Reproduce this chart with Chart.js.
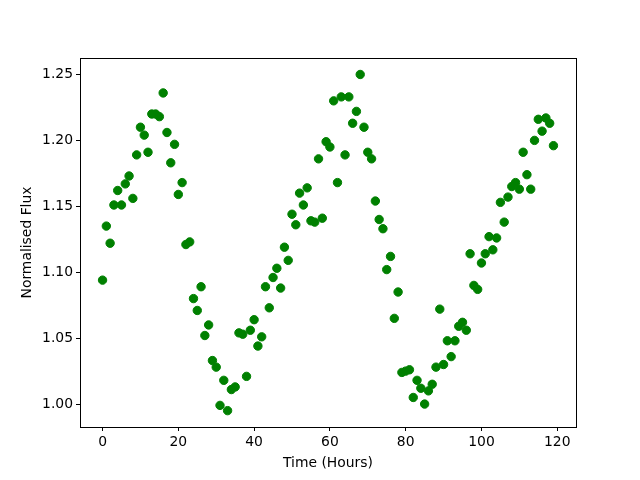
<!DOCTYPE html>
<html>

<head>
    <script src="https://cdn.jsdelivr.net/npm/chart.js@4.4.1/dist/chart.umd.min.js"></script>
    <style>
        body { margin: 0; background: #ffffff; }
    </style>
</head>

<body>

    <canvas id="myChart" width="640" height="480"></canvas>

    <script>
        // hourly light curve
        var hours = [];
        for (let i = 0; i < 120; i++) hours.push(i);

        var flux = [
            1.094, 1.135, 1.122, 1.151, 1.162, 1.151, 1.167, 1.173, 1.156, 1.189,
            1.210, 1.204, 1.191, 1.220, 1.220, 1.218, 1.236, 1.206, 1.183, 1.197,
            1.159, 1.168, 1.121, 1.123, 1.080, 1.071, 1.089, 1.052, 1.060, 1.033,
            1.028, 0.999, 1.018, 0.995, 1.011, 1.013, 1.054, 1.053, 1.021, 1.056,
            1.064, 1.044, 1.051, 1.089, 1.073, 1.096, 1.103, 1.088, 1.119, 1.109,
            1.144, 1.136, 1.160, 1.151, 1.164, 1.139, 1.138, 1.186, 1.141, 1.199,
            1.195, 1.230, 1.168, 1.233, 1.189, 1.233, 1.213, 1.222, 1.250, 1.210,
            1.191, 1.186, 1.154, 1.140, 1.133, 1.102, 1.112, 1.065, 1.085, 1.024,
            1.025, 1.026, 1.005, 1.018, 1.012, 1.000, 1.010, 1.015, 1.028, 1.072,
            1.030, 1.048, 1.036, 1.048, 1.059, 1.062, 1.056, 1.114, 1.090, 1.087,
            1.107, 1.114, 1.127, 1.117, 1.126, 1.153, 1.138, 1.157, 1.165, 1.168,
            1.163, 1.191, 1.174, 1.163, 1.200, 1.216, 1.207, 1.217, 1.213, 1.196
        ];

        var xTicks = [0, 20, 40, 60, 80, 100, 120];
        var yTicks = [1.00, 1.05, 1.10, 1.15, 1.20, 1.25];

        var points = [];
        for (let i in hours) {
            points.push({ x: hours[i], y: flux[i] });
        }

        // box around the axes like matplotlib
        var frame = {
            id: "frame",
            afterDraw(chart) {
                const a = chart.chartArea;
                const ctx = chart.ctx;
                ctx.save();
                ctx.strokeStyle = "#000000";
                ctx.lineWidth = 1;
                ctx.strokeRect(Math.round(a.left) + 0.5, Math.round(a.top) + 0.5,
                    Math.round(a.right - a.left), Math.round(a.bottom - a.top));
                ctx.restore();
            }
        };

        const font = { family: "DejaVu Sans", size: 13.9 };

        new Chart("myChart", {
            type: "scatter",
            data: {
                datasets: [{
                    data: points,
                    backgroundColor: "#008000",
                    borderColor: "#008000",
                    borderWidth: 1,
                    pointRadius: 4.2,
                    pointHoverRadius: 4.2
                }]
            },
            options: {
                responsive: false,
                animation: false,
                events: [],
                layout: { padding: { top: 58, right: 64, left: 0, bottom: 0 } },
                plugins: {
                    legend: { display: false },
                    tooltip: { enabled: false }
                },
                scales: {
                    x: {
                        type: "linear",
                        min: -5.95,
                        max: 124.95,
                        afterFit(scale) { scale.height = 53; },
                        afterBuildTicks(scale) {
                            scale.ticks = xTicks.map(v => ({ value: v }));
                        },
                        grid: {
                            drawOnChartArea: false,
                            drawTicks: true,
                            tickLength: 4,
                            color: "#000000"
                        },
                        border: { display: false },
                        ticks: {
                            color: "#000000",
                            font: font,
                            padding: 3,
                            maxRotation: 0,
                            callback: v => v
                        },
                        title: {
                            display: true,
                            text: "Time (Hours)",
                            color: "#000000",
                            font: font,
                            padding: { top: 0, bottom: 8.7 }
                        }
                    },
                    y: {
                        type: "linear",
                        min: 0.9826,
                        max: 1.2625,
                        afterFit(scale) { scale.width = 80; },
                        afterBuildTicks(scale) {
                            scale.ticks = yTicks.map(v => ({ value: v }));
                        },
                        grid: {
                            drawOnChartArea: false,
                            drawTicks: true,
                            tickLength: 4,
                            color: "#000000"
                        },
                        border: { display: false },
                        ticks: {
                            color: "#000000",
                            font: font,
                            padding: 3,
                            callback: v => v.toFixed(2)
                        },
                        title: {
                            display: true,
                            text: "Normalised Flux",
                            color: "#000000",
                            font: font,
                            padding: { top: 18.7, bottom: 0 }
                        }
                    }
                }
            },
            plugins: [frame]
        });
    </script>
</body>

</html>
